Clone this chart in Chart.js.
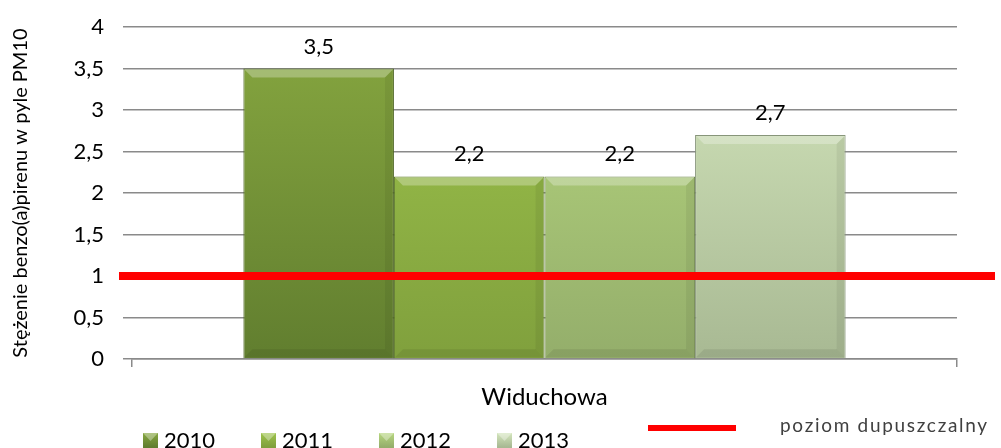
<!DOCTYPE html>
<html>
<head>
<meta charset="utf-8">
<script src="https://cdn.jsdelivr.net/npm/chart.js@4"></script>
<style>
  html, body { margin: 0; padding: 0; background: #fff; }
  #wrap { width: 1001px; height: 448px; }
</style>
</head>
<body>
<div id="wrap"><canvas id="c" width="1001" height="448"></canvas></div>
<script>
const CATEGORIES = ['Widuchowa'];
const YEARS = ['2010', '2011', '2012', '2013'];
const VALUES = [[3.5], [2.2], [2.2], [2.7]];
const LIMIT = 1;
const LIMIT_LABEL = 'poziom dupuszczalny';
const Y_TITLE = 'Stężenie benzo(a)pirenu w pyle PM10';

const FONT = "Lato, 'Open Sans', sans-serif";
// top / bottom gradient stops per year
const BAR_COLORS = [
  ['#87a740', '#617e2f'],
  ['#9ec44c', '#80a03d'],
  ['#b7d77f', '#94ae6b'],
  ['#d4e6bd', '#a8b993'],
];
const BORDER_COLORS = ['#4e6624', '#5d7a2a', '#72884f', '#87957a'];
const LIMIT_COLOR = '#ff0000';

const fmt = (v) => String(v).replace('.', ',');

function gradientFor(i) {
  return (ctx) => {
    const { chart } = ctx;
    const area = chart.chartArea;
    if (!area) return BAR_COLORS[i][0];
    const el = ctx.element;
    const top = el && isFinite(el.y) ? el.y : area.top;
    const g = chart.ctx.createLinearGradient(0, top, 0, area.bottom);
    g.addColorStop(0, BAR_COLORS[i][0]);
    g.addColorStop(1, BAR_COLORS[i][1]);
    return g;
  };
}

// bevel look: light strip on top, darker at bottom
const bevelPlugin = {
  id: 'bevel',
  afterDatasetsDraw(chart) {
    const ctx = chart.ctx;
    chart.data.datasets.forEach((ds, i) => {
      chart.getDatasetMeta(i).data.forEach((bar) => {
        const l = bar.x - bar.width / 2 + 1, r = bar.x + bar.width / 2 - 1;
        const t = bar.y + 1, b = bar.base - 1, s = 8;
        ctx.save();
        ctx.fillStyle = 'rgba(255,255,255,0.28)';
        ctx.beginPath();
        ctx.moveTo(l, t); ctx.lineTo(r, t); ctx.lineTo(r - s, t + s); ctx.lineTo(l + s, t + s);
        ctx.closePath(); ctx.fill();
        ctx.fillStyle = 'rgba(0,0,0,0.08)';
        ctx.beginPath();
        ctx.moveTo(l, b); ctx.lineTo(r, b); ctx.lineTo(r - s, b - s); ctx.lineTo(l + s, b - s);
        ctx.closePath(); ctx.fill();
        ctx.fillStyle = 'rgba(0,0,0,0.06)';
        ctx.beginPath();
        ctx.moveTo(r, t); ctx.lineTo(r, b); ctx.lineTo(r - s, b - s); ctx.lineTo(r - s, t + s);
        ctx.closePath(); ctx.fill();
        ctx.restore();
      });
    });
  },
};

// value labels above bars
const valueLabels = {
  id: 'valueLabels',
  afterDatasetsDraw(chart) {
    const ctx = chart.ctx;
    ctx.save();
    ctx.font = `22px ${FONT}`;
    ctx.fillStyle = '#000';
    ctx.textAlign = 'center';
    ctx.textBaseline = 'middle';
    chart.data.datasets.forEach((ds, i) => {
      chart.getDatasetMeta(i).data.forEach((bar, j) => {
        ctx.fillText(fmt(ds.data[j]), bar.x, bar.y - 22);
      });
    });
    ctx.restore();
  },
};

// permissible level line across the plot
const limitLine = {
  id: 'limitLine',
  afterDatasetsDraw(chart) {
    const y = chart.scales.y.getPixelForValue(LIMIT);
    const ctx = chart.ctx;
    ctx.save();
    ctx.strokeStyle = LIMIT_COLOR;
    ctx.lineWidth = 8;
    ctx.beginPath();
    ctx.moveTo(chart.chartArea.left - 13, y);
    ctx.lineTo(chart.width - 6, y);
    ctx.stroke();
    ctx.restore();
  },
};

// legend row at the bottom
const bottomLegend = {
  id: 'bottomLegend',
  afterDraw(chart) {
    const ctx = chart.ctx;
    const y = 440;
    ctx.save();
    ctx.font = `22px ${FONT}`;
    ctx.textBaseline = 'middle';
    chart.data.datasets.forEach((ds, i) => {
      const x = 143 + i * 118;
      const g = ctx.createLinearGradient(0, y - 7, 0, y + 7);
      g.addColorStop(0, BAR_COLORS[i][0]);
      g.addColorStop(1, BAR_COLORS[i][1]);
      ctx.fillStyle = g;
      ctx.fillRect(x, y - 7, 15, 15);
      ctx.fillStyle = 'rgba(255,255,255,0.35)';
      ctx.beginPath();
      ctx.moveTo(x, y - 7); ctx.lineTo(x + 15, y - 7); ctx.lineTo(x + 7.5, y + 1);
      ctx.closePath(); ctx.fill();
      ctx.fillStyle = '#000';
      ctx.fillText(ds.label, x + 21, y + 1);
    });
    ctx.strokeStyle = LIMIT_COLOR;
    ctx.lineWidth = 6;
    ctx.beginPath();
    ctx.moveTo(648, 428);
    ctx.lineTo(736, 428);
    ctx.stroke();
    ctx.font = `19px ${FONT}`;
    ctx.letterSpacing = '1.7px';
    ctx.fillStyle = '#404040';
    ctx.fillText(LIMIT_LABEL, 780, 426);
    ctx.restore();
  },
};

new Chart(document.getElementById('c'), {
  type: 'bar',
  data: {
    labels: CATEGORIES,
    datasets: YEARS.map((year, i) => ({
      label: year,
      data: VALUES[i],
      backgroundColor: gradientFor(i),
      borderColor: BORDER_COLORS[i],
      borderWidth: 1,
      categoryPercentage: 0.73,
      barPercentage: 1,
    })),
  },
  options: {
    responsive: false,
    animation: false,
    devicePixelRatio: 1,
    layout: { padding: { top: 27, right: 44, left: 0, bottom: 0 } },
    plugins: {
      legend: { display: false },
      tooltip: { enabled: false },
    },
    scales: {
      x: {
        grid: { drawOnChartArea: false, offset: true, tickLength: 8, color: '#8a8a8a', lineWidth: 1.5 },
        border: { color: '#8a8a8a', width: 1.5 },
        ticks: { color: '#000', font: { family: FONT, size: 24 }, padding: 16 },
        afterFit: (s) => { s.height = 89; },
      },
      y: {
        min: 0,
        max: 4,
        ticks: {
          stepSize: 0.5,
          color: '#000',
          padding: 19,
          font: { family: FONT, size: 22, lineHeight: 0.6 },
          callback: (v) => fmt(v),
        },
        grid: { color: '#8a8a8a', lineWidth: 1.5, tickLength: 9 },
        border: { display: false },
        title: {
          display: true,
          text: Y_TITLE,
          color: '#000',
          font: { family: FONT, size: 20 },
          padding: { top: 9, bottom: 0 },
        },
        afterFit: (s) => { s.width = 132; },
      },
    },
  },
  plugins: [bevelPlugin, limitLine, valueLabels, bottomLegend],
});
</script>
</body>
</html>
